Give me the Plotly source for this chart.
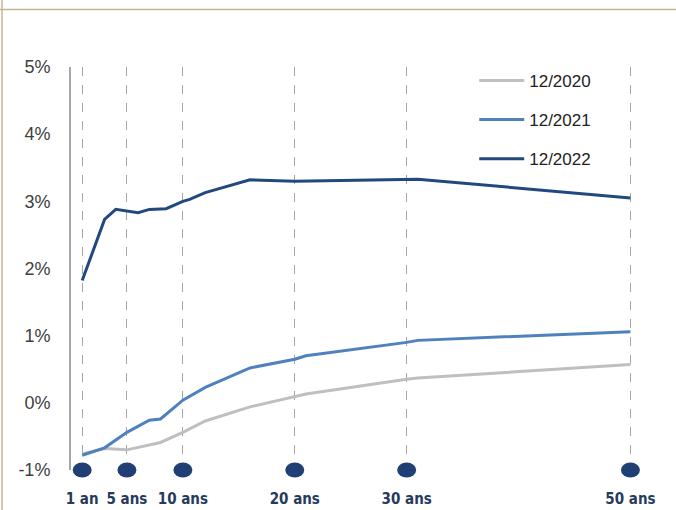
import plotly.graph_objects as go

# Data (maturity in years, rate in %)
tick_years = [1, 5, 10, 20, 30, 50]
tick_labels = ["1 an", "5 ans", "10 ans", "20 ans", "30 ans", "50 ans"]
y_ticks = [-1, 0, 1, 2, 3, 4, 5]
y_tick_labels = ["-1%", "0%", "1%", "2%", "3%", "4%", "5%"]

mat_2020 = [1, 3, 5, 8, 10, 12, 16, 20, 21, 30, 31, 50]
val_2020 = [-0.76, -0.68, -0.70, -0.59, -0.44, -0.27, -0.06, 0.09, 0.13, 0.35, 0.37, 0.57]

mat_2021 = [1, 3, 5, 7, 8, 9, 10, 12, 16, 20, 21, 30, 31, 50]
val_2021 = [-0.78, -0.67, -0.44, -0.26, -0.24, -0.10, 0.04, 0.23, 0.52, 0.65, 0.70, 0.90, 0.93, 1.06]

mat_2022 = [1, 3, 4, 5, 6, 7, 8.5, 10, 10.6, 12, 16, 20, 31, 50]
val_2022 = [1.82, 2.73, 2.88, 2.85, 2.83, 2.88, 2.89, 3.00, 3.03, 3.13, 3.32, 3.30, 3.33, 3.05]

series = [
    ("12/2020", mat_2020, val_2020, "#bfbfbf"),
    ("12/2021", mat_2021, val_2021, "#4f81bd"),
    ("12/2022", mat_2022, val_2022, "#22497f"),
]

X_RANGE = [0, 53]
Y_RANGE = [-1, 5]

fig = go.Figure()
for i, (name, xs, ys, col) in enumerate(series):
    fig.add_trace(go.Scatter(
        x=xs, y=ys, mode="lines", name=name,
        line=dict(color=col, width=3),
        legendgroup="g%d" % i,
        cliponaxis=False,
    ))

PLOT_H = 403.0
PLOT_W = 593.0
shapes = []
# decorative frame lines (top and left)
shapes.append(dict(type="line", xref="paper", yref="paper", x0=-1, x1=2,
                   y0=(510 - 9.5 - 40) / PLOT_H, y1=(510 - 9.5 - 40) / PLOT_H,
                   line=dict(color="#c8b48e", width=1.5), layer="above"))
shapes.append(dict(type="line", xref="paper", yref="paper",
                   x0=-69.0 / PLOT_W, x1=-69.0 / PLOT_W,
                   y0=-40.0 / PLOT_H, y1=(510 - 40.0) / PLOT_H,
                   line=dict(color="#c8b48e", width=1.5), layer="above"))
# maturity markers (ellipses) at bottom of axis
for m in tick_years:
    shapes.append(dict(type="circle", xref="x", yref="paper",
                       xsizemode="pixel", ysizemode="pixel",
                       xanchor=m, yanchor=0,
                       x0=-9.5, x1=9.5, y0=-7.5, y1=7.5,
                       fillcolor="#1f3f75", line=dict(width=0), layer="above"))

fig.update_layout(
    width=676, height=510,
    margin=dict(l=71, r=12, t=67, b=40, autoexpand=False),
    paper_bgcolor="white", plot_bgcolor="white",
    showlegend=True,
    legend=dict(x=0.68, y=1.01, xanchor="left", yanchor="top",
                itemwidth=45,
                font=dict(family="Liberation Sans, Arial, sans-serif", size=17, color="#222222"),
                bgcolor="rgba(0,0,0,0)", tracegroupgap=14),
    shapes=shapes,
    xaxis=dict(range=X_RANGE, tickvals=tick_years, ticktext=tick_labels,
               automargin=False,
               showgrid=True, gridcolor="#a6a6a6", griddash="dash", gridwidth=1,
               zeroline=False, showline=False,
               ticks="outside", ticklen=15, tickcolor="rgba(0,0,0,0)",
               tickfont=dict(family="DejaVu Sans Condensed, Liberation Sans Narrow, Liberation Sans, sans-serif",
                             size=15, color="#263a5c", weight="bold")),
    yaxis=dict(range=Y_RANGE, tickvals=y_ticks, ticktext=y_tick_labels,
               automargin=False,
               showgrid=False, zeroline=False,
               showline=True, linecolor="#a6a6a6", linewidth=2,
               ticks="outside", ticklen=15, tickcolor="rgba(0,0,0,0)",
               tickfont=dict(family="Liberation Sans, Arial, sans-serif", size=18, color="#404040")),
)

fig.write_html("out.html")
